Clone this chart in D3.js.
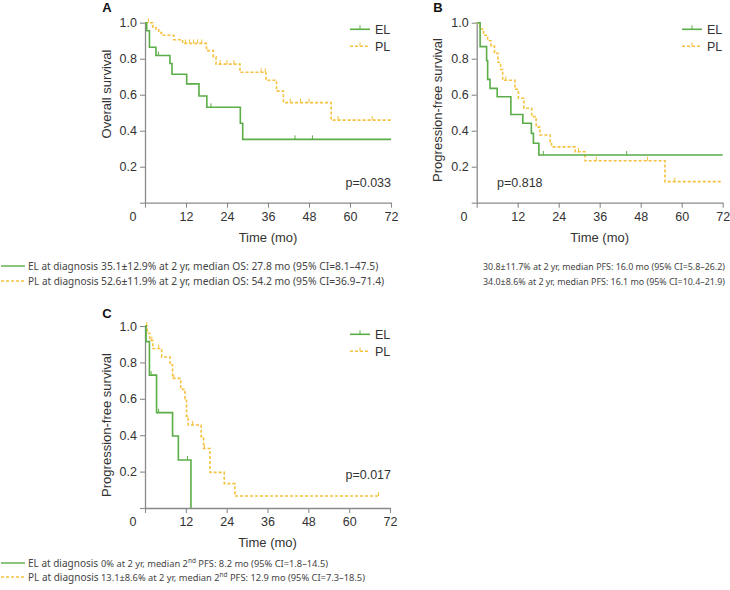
<!DOCTYPE html>
<html><head><meta charset="utf-8">
<script src="https://cdn.jsdelivr.net/npm/d3@7"></script>
<style>
html,body{margin:0;padding:0;background:#fff;}
svg{display:block;}
</style></head>
<body>
<svg id="chart" width="730" height="590"></svg>
<script>
// ---------- DATA ----------
const timeTicks = [0, 12, 24, 36, 48, 60, 72];
const survTicks = [0, 0.2, 0.4, 0.6, 0.8, 1.0];
const groups = ["EL", "PL"];
const legendLabels = ["EL at diagnosis", "PL at diagnosis"];

// Panel A: overall survival
const osELTime = [0, 0.5, 1.3, 3.2, 7.3, 7.9, 12.2, 15.8, 18.1, 27.9, 28.6, 72];
const osELSurv = [1.0, 0.955, 0.864, 0.818, 0.773, 0.714, 0.66, 0.593, 0.53, 0.441, 0.352, 0.352];
const osELCens = [3.9, 19.3, 43.9, 49.0];
const osPLTime = [0, 2.3, 3.2, 4.0, 4.8, 8.4, 11.0, 18.0, 20.0, 20.8, 27.8, 35.4, 38.5, 40.5, 54.5, 72];
const osPLSurv = [1.0, 0.975, 0.96, 0.945, 0.93, 0.905, 0.885, 0.845, 0.81, 0.77, 0.725, 0.68, 0.62, 0.556, 0.459, 0.459];
const osPLCens = [1.0, 11.8, 13.0, 14.2, 15.4, 16.6, 22.0, 24.0, 26.0, 34.0, 35.2, 42.5, 45.5, 48.0, 56.5, 66.5];

// Panel B: progression-free survival
const pfsELTime = [0, 1.0, 2.9, 3.2, 3.9, 6.0, 10.0, 13.5, 16.0, 16.6, 18.2, 72];
const pfsELSurv = [1.0, 0.867, 0.79, 0.685, 0.635, 0.589, 0.49, 0.441, 0.385, 0.33, 0.265, 0.265];
const pfsELCens = [19.5, 43.9];
const pfsPLTime = [0, 0.9, 2.0, 3.2, 4.2, 5.2, 6.2, 7.0, 7.6, 11.2, 12.2, 13.8, 16.1, 17.4, 18.5, 21.5, 21.9, 28.8, 31.7, 55.1, 72];
const pfsPLSurv = [1.0, 0.965, 0.93, 0.9, 0.87, 0.83, 0.78, 0.74, 0.68, 0.63, 0.58, 0.525, 0.478, 0.42, 0.376, 0.34, 0.31, 0.283, 0.233, 0.117, 0.117];
const pfsPLCens = [8.5, 29.8, 35.0, 50.0, 58.0];

// Panel C: second progression-free survival
const pfs2ELTime = [0, 0.3, 1.3, 3.4, 8.1, 9.8, 13.5];
const pfs2ELSurv = [1.0, 0.914, 0.73, 0.524, 0.396, 0.264, 0];
const pfs2ELCens = [1.8, 4.0, 12.5];
const pfs2PLTime = [0, 0.7, 1.4, 2.3, 4.9, 7.35, 8.1, 10.5, 11.75, 12.2, 12.7, 16.5, 17.2, 19.1, 23.3, 26.4, 68.6];
const pfs2PLSurv = [1.0, 0.96, 0.92, 0.876, 0.83, 0.787, 0.712, 0.652, 0.6, 0.505, 0.456, 0.392, 0.327, 0.196, 0.134, 0.066, 0.066];
const pfs2PLCens = [0.5, 2.0, 4.0, 8.5, 14.0, 17.5, 68.6];

const panelLetters = ["A", "B", "C"];
const yTitles = ["Overall survival", "Progression-free survival", "Progression-free survival"];
const xTitle = "Time (mo)";
const pValues = ["p=0.033", "p=0.818", "p=0.017"];
const osStats = ["35.1±12.9% at 2 yr, median OS: 27.8 mo (95% CI=8.1–47.5)",
                 "52.6±11.9% at 2 yr, median OS: 54.2 mo (95% CI=36.9–71.4)"];
const pfsStats = ["30.8±11.7% at 2 yr, median PFS: 16.0 mo (95% CI=5.8–26.2)",
                  "34.0±8.6% at 2 yr, median PFS: 16.1 mo (95% CI=10.4–21.9)"];
const pfs2Stats = [["0% at 2 yr, median 2", "nd", " PFS: 8.2 mo (95% CI=1.8–14.5)"],
                   ["13.1±8.6% at 2 yr, median 2", "nd", " PFS: 12.9 mo (95% CI=7.3–18.5)"]];

// ---------- STYLE ----------
const GREEN = "#5aad47";
const YELLOW = "#f5c13f";
const AXIS = "#8a8a8a";
const TXT = "#333";
const AXFONT = "'Liberation Sans', Arial, sans-serif";
const LGFONT = "'Noto Sans', sans-serif";

const svg = d3.select("#chart");

function zip(t, s) { return t.map((v, i) => [v, s[i]]); }

const panels = [
  { left: 145, right: 391, top: 22.7, bottom: 202.7, letterX: 107, letterY: 12, titleX: 107, titleY: 94,
    legX: 350, legY: 29.3, pX: 391, pY: 187, pAnchor: "end", zeroX: 133,
    series: [ {pts: zip(osELTime, osELSurv), cens: osELCens}, {pts: zip(osPLTime, osPLSurv), cens: osPLCens} ] },
  { left: 476.7, right: 722.7, top: 22.7, bottom: 202.7, letterX: 438, letterY: 12, titleX: 438, titleY: 110,
    legX: 682, legY: 29.3, pX: 497, pY: 187, pAnchor: "start", zeroX: 464,
    series: [ {pts: zip(pfsELTime, pfsELSurv), cens: pfsELCens}, {pts: zip(pfsPLTime, pfsPLSurv), cens: pfsPLCens} ] },
  { left: 145, right: 390, top: 326, bottom: 508, letterX: 107, letterY: 318, titleX: 107, titleY: 425,
    legX: 350, legY: 334.3, pX: 391, pY: 479, pAnchor: "end", zeroX: 133,
    series: [ {pts: zip(pfs2ELTime, pfs2ELSurv), cens: pfs2ELCens}, {pts: zip(pfs2PLTime, pfs2PLSurv), cens: pfs2PLCens} ] }
];

const styles = [
  { color: GREEN, dash: null, width: 1.6 },
  { color: YELLOW, dash: "3,2", width: 1.6 }
];

panels.forEach((p, pi) => {
  const g = svg.append("g");
  const x = d3.scaleLinear().domain([0, 72]).range([p.left, p.right]);
  const y = d3.scaleLinear().domain([0, 1]).range([p.bottom, p.top]);

  const xAxis = d3.axisBottom(x).tickValues(timeTicks).tickSize(5).tickSizeOuter(0)
    .tickFormat(d => d === 0 ? "" : d);
  const yAxis = d3.axisLeft(y).tickValues(survTicks).tickSize(5).tickSizeOuter(0)
    .tickFormat(d => d === 0 ? "" : d3.format(".1f")(d));

  const gx = g.append("g").attr("transform", `translate(0,${p.bottom})`).call(xAxis);
  const gy = g.append("g").attr("transform", `translate(${p.left},0)`).call(yAxis);
  [gx, gy].forEach(a => {
    a.selectAll("path.domain").attr("stroke", AXIS).attr("stroke-width", 1.3);
    a.selectAll(".tick line").attr("stroke", AXIS).attr("stroke-width", 1.1);
    a.selectAll(".tick text").attr("fill", TXT).style("font-family", AXFONT).style("font-size", "12.5px");
  });
  gx.selectAll(".tick text").attr("dy", "0.71em").attr("y", 9);
  gy.selectAll(".tick text").attr("x", -8);

  g.append("text").attr("x", p.zeroX).attr("y", p.bottom + 18)
    .attr("text-anchor", "middle").attr("fill", TXT)
    .style("font-family", AXFONT).style("font-size", "12.5px").text("0");

  g.append("text").attr("x", p.letterX).attr("y", p.letterY).attr("text-anchor", "middle")
    .attr("fill", "#111").style("font-family", AXFONT).style("font-size", "13px").style("font-weight", "bold")
    .text(panelLetters[pi]);
  g.append("text").attr("transform", `translate(${p.titleX + 4},${p.titleY}) rotate(-90)`)
    .attr("text-anchor", "middle").attr("fill", TXT)
    .style("font-family", AXFONT).style("font-size", "13px").text(yTitles[pi]);
  g.append("text").attr("x", (p.left + p.right) / 2).attr("y", p.bottom + 39)
    .attr("text-anchor", "middle").attr("fill", TXT)
    .style("font-family", AXFONT).style("font-size", "13px").text(xTitle);

  g.append("text").attr("x", p.pX).attr("y", p.pY).attr("text-anchor", p.pAnchor).attr("fill", TXT)
    .style("font-family", AXFONT).style("font-size", "12.5px").text(pValues[pi]);

  const line = d3.line().x(d => x(d[0])).y(d => y(d[1])).curve(d3.curveStepAfter);
  [1, 0].forEach(si => {
    const s = p.series[si], st = styles[si];
    g.append("path").attr("d", line(s.pts)).attr("fill", "none")
      .attr("stroke", st.color).attr("stroke-width", st.width)
      .attr("stroke-dasharray", st.dash);
    const survAt = t => { let v = s.pts[0][1]; s.pts.forEach(d => { if (d[0] <= t) v = d[1]; }); return v; };
    g.selectAll(null).data(s.cens).enter().append("line")
      .attr("x1", d => x(d)).attr("x2", d => x(d))
      .attr("y1", d => y(survAt(d))).attr("y2", d => y(survAt(d)) - 4)
      .attr("stroke", st.color).attr("stroke-width", 1);
  });

  groups.forEach((gname, gi) => {
    const st = styles[gi];
    const ly = p.legY + gi * 17;
    g.append("line").attr("x1", p.legX).attr("x2", p.legX + 20).attr("y1", ly).attr("y2", ly)
      .attr("stroke", st.color).attr("stroke-width", st.width).attr("stroke-dasharray", st.dash);
    g.append("line").attr("x1", p.legX + 10).attr("x2", p.legX + 10).attr("y1", ly).attr("y2", ly - 4)
      .attr("stroke", st.color).attr("stroke-width", 1);
    g.append("text").attr("x", p.legX + 25).attr("y", ly + 4.5).attr("fill", TXT)
      .style("font-family", AXFONT).style("font-size", "12.5px").text(gname);
  });
});

// ---------- bottom legends ----------
function legendRow(yc, gi, withLabel, textX, parts, fs) {
  const st = styles[gi];
  if (withLabel) {
    svg.append("line").attr("x1", 1).attr("x2", 25).attr("y1", yc).attr("y2", yc)
      .attr("stroke", st.color).attr("stroke-width", 1.4).attr("stroke-dasharray", st.dash);
    svg.append("text").attr("x", 28).attr("y", yc + 3.5).attr("fill", "#444")
      .style("font-family", LGFONT).style("font-size", "10px").text(legendLabels[gi]);
  }
  const t = svg.append("text").attr("x", textX).attr("y", yc + 3.5).attr("fill", "#444")
    .style("font-family", LGFONT).style("font-size", fs + "px");
  if (typeof parts === "string") t.text(parts);
  else {
    t.append("tspan").text(parts[0]);
    t.append("tspan").attr("dy", -3.5).style("font-size", "6.5px").text(parts[1]);
    t.append("tspan").attr("dy", 3.5).text(parts[2]);
  }
}
[0, 1].forEach(gi => {
  legendRow(266 + gi * 15, gi, true, 101, osStats[gi], 10.3);
  legendRow(266 + gi * 15, gi, false, 483, pfsStats[gi], 8.9);
  legendRow(563 + gi * 14, gi, true, 101, pfs2Stats[gi], 9.3);
});
</script>
</body></html>
